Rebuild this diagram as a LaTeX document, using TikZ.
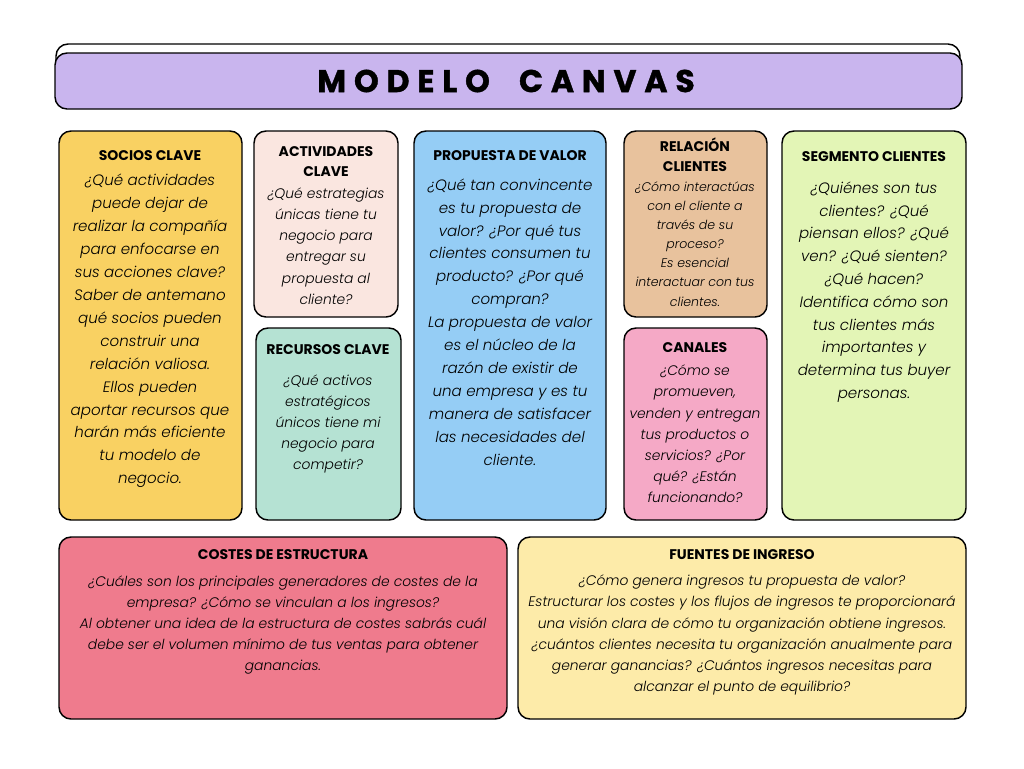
\documentclass[tikz,border=0pt]{standalone}
\usepackage{fontspec}
\setmainfont{Poppins}
\newfontfamily\lightfont{Poppins}[UprightFont=* Light, ItalicFont=* Light Italic]
\newfontfamily\titlefont{Poppins}[LetterSpace=25, FakeBold=1.2]
\definecolor{cTitle}{HTML}{C9B5EE}
\definecolor{cSocios}{HTML}{F9D162}
\definecolor{cActiv}{HTML}{FAE6E0}
\definecolor{cRecur}{HTML}{B5E2D3}
\definecolor{cProp}{HTML}{95CDF5}
\definecolor{cRel}{HTML}{E8C29D}
\definecolor{cCan}{HTML}{F5A9C6}
\definecolor{cSeg}{HTML}{E3F5B6}
\definecolor{cCost}{HTML}{EF7B8D}
\definecolor{cFuen}{HTML}{FDEBA9}
\tikzset{
  box/.style={draw=black, line width=1.1pt, rounded corners=9pt},
  head/.style={align=center, inner sep=0pt, font=\fontsize{10.5}{15}\selectfont\bfseries},
  bodyL/.style={align=center, inner sep=0pt, font=\lightfont\fontsize{11.3}{17.2}\selectfont\itshape},
  bodyM/.style={align=center, inner sep=0pt, font=\lightfont\fontsize{10.4}{15.9}\selectfont\itshape},
  bodyS/.style={align=center, inner sep=0pt, font=\lightfont\fontsize{9.4}{14.3}\selectfont\itshape},
  bodyC/.style={align=center, inner sep=0pt, font=\lightfont\fontsize{10.4}{15.9}\selectfont\itshape},
}
\begin{document}
\begin{tikzpicture}[x=0.75pt,y=-0.75pt]
\useasboundingbox (0,0) rectangle (1024,768);
\fill[white] (0,0) rectangle (1024,768);
% title
\path[box, fill=white] (56,44) rectangle (960,100);
\path[box, fill=cTitle] (55,53) rectangle (962,109);
\node[inner sep=0pt, font=\titlefont\fontsize{23.6}{28}\selectfont\bfseries] (title) at (506,81) {MODELO\hspace{11pt} CANVAS};
% boxes
\path[box, fill=cSocios] (59,131) rectangle (242,520);
\path[box, fill=cActiv] (254,131) rectangle (398,317);
\path[box, fill=cRecur] (256,328) rectangle (401,520);
\path[box, fill=cProp] (414,131) rectangle (606,520);
\path[box, fill=cRel] (624,131) rectangle (767,317);
\path[box, fill=cCan] (624,328) rectangle (767,520);
\path[box, fill=cSeg] (782,131) rectangle (966,520);
\path[box, fill=cCost] (59,537) rectangle (507,719);
\path[box, fill=cFuen] (518,537) rectangle (966,719);
% socios
\node[head] (hSoc) at (150,156) {SOCIOS CLAVE};
\node[bodyL] (tSoc) at (150,331) {¿Qué actividades\\puede dejar de\\realizar la compañía\\para enfocarse en\\sus acciones clave?\\Saber de antemano\\qué socios pueden\\construir una\\relación valiosa.\\Ellos pueden\\aportar recursos que\\harán más eficiente\\tu modelo de\\negocio.};
% actividades
\node[head] (hAct) at (326,162) {ACTIVIDADES\\CLAVE};
\node[bodyM] (tAct) at (326,246) {¿Qué estrategias\\únicas tiene tu\\negocio para\\entregar su\\propuesta al\\cliente?};
% recursos
\node[head] (hRec) at (328,350) {RECURSOS CLAVE};
\node[bodyM] (tRec) at (328,424) {¿Qué activos\\estratégicos\\únicos tiene mi\\negocio para\\competir?};
% propuesta
\node[head] (hProp) at (510,156) {PROPUESTA DE VALOR};
\node[bodyL] (tProp) at (510,322) {¿Qué tan convincente\\es tu propuesta de\\valor? ¿Por qué tus\\clientes consumen tu\\producto? ¿Por qué\\compran?\\La propuesta de valor\\es el núcleo de la\\razón de existir de\\una empresa y es tu\\manera de satisfacer\\las necesidades del\\cliente.};
% relacion
\node[head] (hRel) at (695,155) {RELACIÓN\\CLIENTES};
\node[bodyS] (tRel) at (695,244) {¿Cómo interactúas\\con el cliente a\\través de su\\proceso?\\Es esencial\\interactuar con tus\\clientes.};
% canales
\node[head] (hCan) at (695,348) {CANALES};
\node[bodyM] (tCan) at (695,434) {¿Cómo se\\promueven,\\venden y entregan\\tus productos o\\servicios? ¿Por\\qué? ¿Están\\funcionando?};
% segmento
\node[head] (hSeg) at (874,157) {SEGMENTO CLIENTES};
\node[bodyL, font=\lightfont\fontsize{11.3}{17.1}\selectfont\itshape] (tSeg) at (874,292) {¿Quiénes son tus\\clientes? ¿Qué\\piensan ellos? ¿Qué\\ven? ¿Qué sienten?\\¿Qué hacen?\\Identifica cómo son\\tus clientes más\\importantes y\\determina tus buyer\\personas.};
% costes
\node[head] (hCost) at (283,555) {COSTES DE ESTRUCTURA};
\node[bodyC] (tCost) at (283,625) {¿Cuáles son los principales generadores de costes de la\\empresa? ¿Cómo se vinculan a los ingresos?\\Al obtener una idea de la estructura de costes sabrás cuál\\debe ser el volumen mínimo de tus ventas para obtener\\ganancias.};
% fuentes
\node[head] (hFuen) at (742,555) {FUENTES DE INGRESO};
\node[bodyC] (tFuen) at (742,635) {¿Cómo genera ingresos tu propuesta de valor?\\Estructurar los costes y los flujos de ingresos te proporcionará\\una visión clara de cómo tu organización obtiene ingresos.\\¿cuántos clientes necesita tu organización anualmente para\\generar ganancias? ¿Cuántos ingresos necesitas para\\alcanzar el punto de equilibrio?};
\end{tikzpicture}
\end{document}
